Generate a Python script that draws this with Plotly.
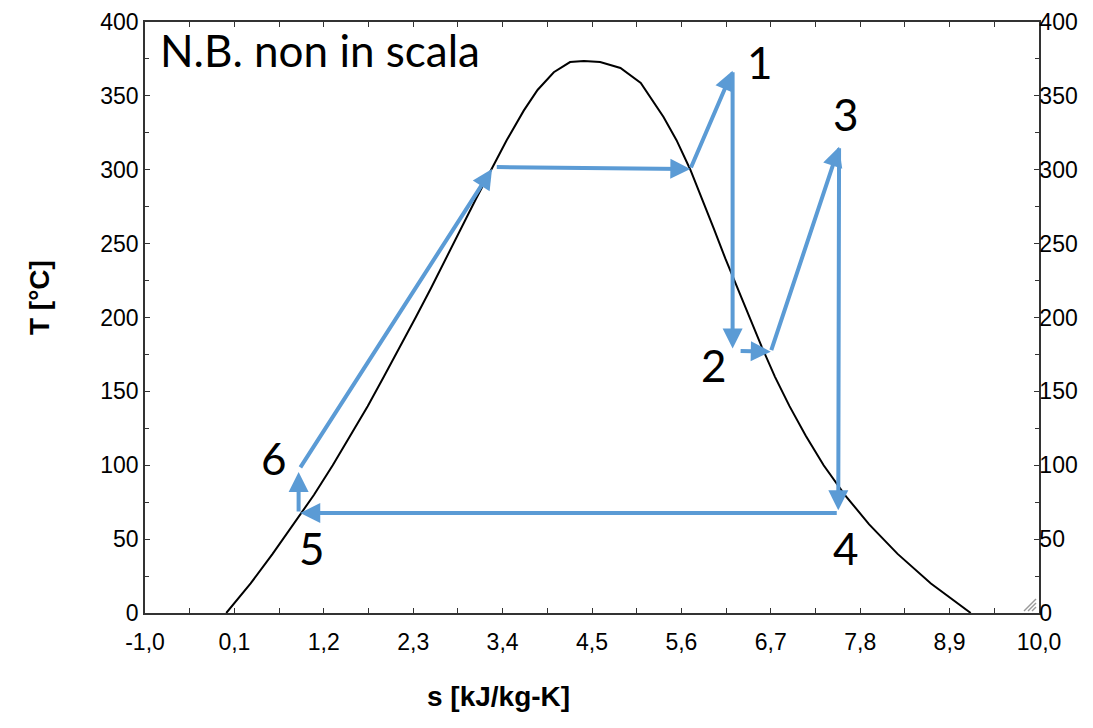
import plotly.graph_objects as go

BLUE = "#5b9bd5"

# saturation dome of water (s in kJ/kg-K, T in C)
dome_s = [0.00, 0.30, 0.57, 0.83, 1.08, 1.31, 1.53, 1.74, 1.94, 2.14, 2.33, 2.52,
          2.70, 2.88, 3.07, 3.26, 3.45, 3.66, 3.83, 4.03, 4.23, 4.40, 4.60, 4.85,
          5.10, 5.38, 5.54, 5.71, 5.86, 6.00, 6.14, 6.29, 6.43, 6.59, 6.75, 6.93,
          7.13, 7.35, 7.61, 7.91, 8.26, 8.67, 9.16]
dome_T = [0, 20, 40, 60, 80, 100, 120, 140, 160, 180, 200, 220,
          240, 260, 280, 300, 320, 340, 354, 366, 372.9, 373.6, 372.9, 368.9,
          358.7, 335.7, 320, 300, 280, 260, 240, 220, 200, 180, 160, 140,
          120, 100, 80, 60, 40, 20, 0]

# cycle segments (tail -> head)
tail_s = [0.89, 0.90, 3.31, 5.71, 6.23, 6.31, 6.70, 7.54, 7.53]
tail_T = [67.7, 97.5, 301.8, 300.5, 367.0, 177.3, 176.9, 315.6, 67.7]
head_s = [0.89, 3.27, 5.71, 6.23, 6.23, 6.70, 7.54, 7.53, 0.91]
head_T = [95.5, 300.5, 300.5, 367.0, 179.0, 176.9, 315.6, 69.5, 67.7]

# state point labels
point_names = ["1", "2", "3", "4", "5", "6"]
label_s = [6.57, 6.00, 7.62, 7.62, 1.06, 0.59]
label_T = [373, 168, 338, 44, 44, 105]

note = "N.B. non in scala"

x_ticks = [-1.0, 0.1, 1.2, 2.3, 3.4, 4.5, 5.6, 6.7, 7.8, 8.9, 10.0]
x_labels = ["-1,0", "0,1", "1,2", "2,3", "3,4", "4,5", "5,6", "6,7", "7,8", "8,9", "10,0"]
y_ticks = [0, 50, 100, 150, 200, 250, 300, 350, 400]

tick_font = dict(family="Liberation Sans, Arial", size=23, color="black")
title_font = dict(family="Liberation Sans, Arial", size=28, color="black")
label_font = dict(family="Lato", size=44, color="black")

fig = go.Figure()
fig.add_trace(go.Scatter(x=dome_s, y=dome_T, mode="lines",
                         line=dict(color="black", width=2), showlegend=False,
                         hoverinfo="skip"))
fig.add_trace(go.Scatter(x=[None], y=[None], yaxis="y2", showlegend=False,
                         hoverinfo="skip"))

ann = []
for x0, y0, x1, y1 in zip(tail_s, tail_T, head_s, head_T):
    ann.append(dict(x=x1, y=y1, ax=x0, ay=y0, xref="x", yref="y",
                    axref="x", ayref="y", text="", showarrow=True,
                    arrowhead=2, arrowsize=1.0, arrowwidth=4,
                    arrowcolor=BLUE, standoff=0, startstandoff=0))
for t, x, y in zip(point_names, label_s, label_T):
    ann.append(dict(x=x, y=y, xref="x", yref="y", text=t, showarrow=False,
                    font=label_font))
ann.append(dict(x=-0.84, y=381, xref="x", yref="y", text=note, showarrow=False,
                xanchor="left", font=label_font))
ann.append(dict(x=0.395, y=-0.142, xref="paper", yref="paper",
                xanchor="center", yanchor="middle",
                text="<b>s [kJ/kg-K]</b>", showarrow=False, font=title_font))
ann.append(dict(x=-0.1174, y=0.533, xref="paper", yref="paper",
                xanchor="center", yanchor="middle",
                text="<b>T [°C]</b>", showarrow=False, textangle=-90,
                font=title_font))

# resize grip in the lower right corner
shapes = []
for k in [4, 8, 12]:
    shapes.append(dict(type="line", xref="x", yref="y",
                       xsizemode="pixel", ysizemode="pixel",
                       xanchor=10, yanchor=0,
                       x0=-3 - k, y0=2, x1=-3, y1=2 + k,
                       line=dict(color="#9a9a9a", width=1.5)))

axis_common = dict(showgrid=False, zeroline=False, ticks="inside", ticklen=5,
                   tickcolor="#333", showline=True, linecolor="#333",
                   linewidth=1.5, tickfont=tick_font, automargin=False)
y_minor = dict(dtick=25, ticklen=4, ticks="inside", tickcolor="#333")

# page body adds an 8px offset, margins compensate for it
fig.update_layout(
    width=1093, height=728,
    margin=dict(l=137, r=62, t=14, b=123),
    paper_bgcolor="white", plot_bgcolor="white",
    annotations=ann,
    shapes=shapes,
    xaxis=dict(range=[-1, 10], tickvals=x_ticks, ticktext=x_labels,
               mirror="allticks", ticklabelstandoff=8,
               minor=dict(dtick=0.55, tick0=-1, ticklen=4, ticks="inside",
                          tickcolor="#333"),
               **axis_common),
    yaxis=dict(range=[0, 400], tickvals=y_ticks, mirror=True,
               minor=y_minor, **axis_common),
    yaxis2=dict(range=[0, 400], tickvals=y_ticks, overlaying="y", side="right",
                anchor="x", ticklabelstandoff=-6,
                minor=y_minor, **axis_common),
)

fig.write_html("out.html")
